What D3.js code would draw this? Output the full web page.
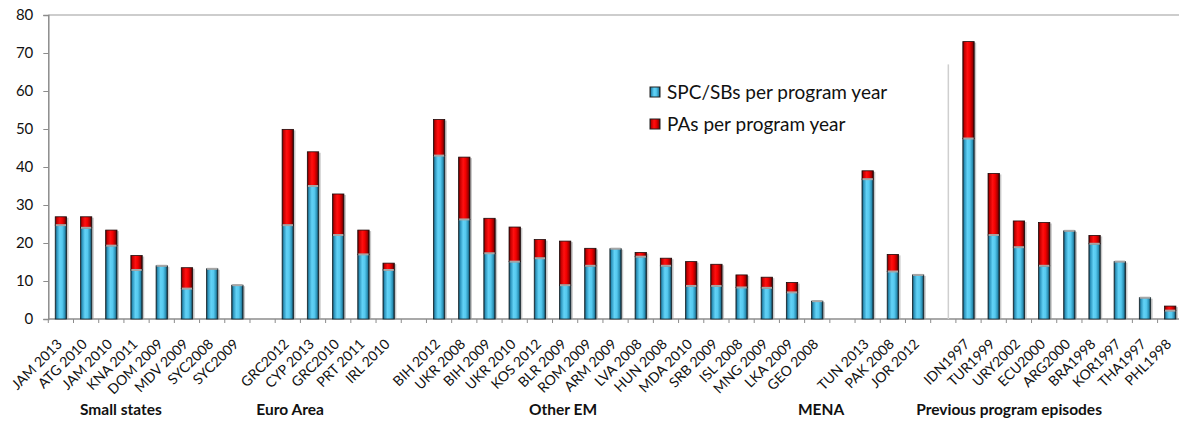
<!doctype html>
<html lang="en">

<head>
  <meta charset="utf-8">
  <style>
    body { margin: 0; background: #fff; }
    text { font-family: Lato, "Open Sans", sans-serif; fill: #111; }
  </style>
</head>

<body>
  <script src="https://d3js.org/d3.v7.min.js" charset="utf-8"></script>
  <div id="chart"></div>

  <script>
    // categories in chart order; "" marks an empty gap slot between groups
    var categories = [
      "JAM 2013", "ATG 2010", "JAM 2010", "KNA 2011", "DOM 2009", "MDV 2009", "SYC2008", "SYC2009", "",
      "GRC2012", "CYP 2013", "GRC2010", "PRT 2011", "IRL 2010", "",
      "BIH 2012", "UKR 2008", "BIH 2009", "UKR 2010", "KOS 2012", "BLR 2009", "ROM 2009", "ARM 2009",
      "LVA 2008", "HUN 2008", "MDA 2010", "SRB 2009", "ISL 2008", "MNG 2009", "LKA 2009", "GEO 2008", "",
      "TUN 2013", "PAK 2008", "JOR 2012", "",
      "IDN1997", "TUR1999", "URY2002", "ECU2000", "ARG2000", "BRA1998", "KOR1997", "THA1997", "PHL1998"
    ];
    // SPC/SBs per program year (blue)
    var spc = [
      24.7, 24.0, 19.3, 12.9, 14.0, 8.0, 13.2, 8.9, null,
      24.7, 35.0, 22.1, 17.0, 12.9, null,
      43.0, 26.2, 17.3, 15.1, 16.0, 8.9, 14.0, 18.5,
      16.4, 14.0, 8.7, 8.7, 8.3, 8.2, 7.0, 4.7, null,
      36.8, 12.5, 11.6, null,
      47.5, 22.1, 18.9, 14.0, 23.2, 19.8, 15.1, 5.6, 2.2
    ];
    // PAs per program year (red), stacked on top
    var pas = [
      2.2, 2.9, 4.1, 3.8, 0, 5.5, 0, 0, null,
      25.2, 9.0, 10.8, 6.4, 1.8, null,
      9.5, 16.4, 9.2, 9.1, 4.9, 11.6, 4.6, 0,
      1.1, 2.0, 6.4, 5.7, 3.3, 2.8, 2.6, 0, null,
      2.2, 4.5, 0, null,
      25.5, 16.2, 6.9, 11.4, 0, 2.2, 0, 0, 1.2
    ];
    var seriesNames = ["SPC/SBs per program year", "PAs per program year"];
    var yTicks = [0, 10, 20, 30, 40, 50, 60, 70, 80];
    // group captions and where they sit, in slot units along the x axis
    var groups = ["Small states", "Euro Area", "Other EM", "MENA", "Previous program episodes"];
    var groupSlot = [2.88, 9.59, 20.42, 30.65, 38.11];
    // thin divider before the previous program episodes (slot units, value height)
    var dividerSlot = 35.7, dividerTop = 67;

    var W = 1179, H = 422;
    var mLeft = 48.3, mRight = 1182.8, mTop = 15, mBottom = 319;

    var svg = d3.select("#chart").append("svg")
      .attr("width", W)
      .attr("height", H);

    var slotIds = categories.map(function (c, i) { return "s" + i; });

    var x = d3.scaleBand()
      .domain(slotIds)
      .range([mLeft, mRight])
      .paddingInner(0.55)
      .paddingOuter(0.275);
    var xs = d3.scaleLinear().domain([0, categories.length]).range([mLeft, mRight]);
    var y = d3.scaleLinear().domain([0, 80]).range([mBottom, mTop]);

    // gradients for the bevelled bars
    var defs = svg.append("defs");
    var blue = defs.append("linearGradient").attr("id", "gBlue");
    [["0%", "#12394a"], ["14%", "#2c93bb"], ["40%", "#62d2f6"], ["62%", "#55c9ef"], ["85%", "#2a8fb4"], ["100%", "#0c2330"]]
      .forEach(function (s) { blue.append("stop").attr("offset", s[0]).attr("stop-color", s[1]); });
    var red = defs.append("linearGradient").attr("id", "gRed");
    [["0%", "#4a0000"], ["14%", "#c40000"], ["40%", "#ff1010"], ["62%", "#f20000"], ["85%", "#a00000"], ["100%", "#2a0000"]]
      .forEach(function (s) { red.append("stop").attr("offset", s[0]).attr("stop-color", s[1]); });

    // top gridline
    svg.append("line")
      .attr("x1", mLeft).attr("x2", W)
      .attr("y1", y(80)).attr("y2", y(80))
      .style("stroke", "#bdbdbd").style("stroke-width", 1.5);

    // y axis
    var yAxis = svg.append("g")
      .attr("transform", "translate(" + mLeft + ",0)")
      .call(d3.axisLeft(y).tickValues(yTicks).tickSize(5).tickPadding(10));
    yAxis.select(".domain").style("stroke", "#8c8c8c").style("stroke-width", 1.5);
    yAxis.selectAll(".tick line").style("stroke", "#8c8c8c");
    yAxis.selectAll("text").style("font-size", "15px").style("font-family", "Lato, sans-serif").attr("fill", "#111");

    // x axis line and boundary ticks
    svg.append("line")
      .attr("x1", mLeft).attr("x2", mRight)
      .attr("y1", mBottom).attr("y2", mBottom)
      .style("stroke", "#8c8c8c").style("stroke-width", 1.5);
    svg.selectAll(".bt").data(d3.range(categories.length + 1))
      .enter().append("line")
      .attr("class", "bt")
      .attr("x1", function (i) { return xs(i); })
      .attr("x2", function (i) { return xs(i); })
      .attr("y1", mBottom).attr("y2", mBottom + 4)
      .style("stroke", "#8c8c8c");

    // divider line
    svg.append("line")
      .attr("x1", xs(dividerSlot)).attr("x2", xs(dividerSlot))
      .attr("y1", y(dividerTop)).attr("y2", mBottom)
      .style("stroke", "#cfcfcf").style("stroke-width", 1.5);

    var rows = categories.map(function (c, i) {
      return { id: slotIds[i], name: c, spc: spc[i], pas: pas[i] };
    }).filter(function (d) { return d.name !== ""; });

    var bw = x.bandwidth();

    // soft shadow to the right of each bar
    svg.selectAll(".shadow").data(rows)
      .enter().append("rect")
      .attr("class", "shadow")
      .attr("x", function (d) { return x(d.id) + 2; })
      .attr("y", function (d) { return y(d.spc + d.pas) + 1; })
      .attr("width", bw)
      .attr("height", function (d) { return mBottom - y(d.spc + d.pas) - 1; })
      .style("fill", "#9a9a9a").style("opacity", 0.55);

    // blue segments
    svg.selectAll(".spc").data(rows)
      .enter().append("rect")
      .attr("class", "spc")
      .attr("x", function (d) { return x(d.id); })
      .attr("y", function (d) { return y(d.spc); })
      .attr("width", bw)
      .attr("height", function (d) { return mBottom - y(d.spc); })
      .style("fill", "url(#gBlue)")
      .style("stroke", "#16262d").style("stroke-width", 0.8);

    // red segments
    svg.selectAll(".pas").data(rows.filter(function (d) { return d.pas > 0; }))
      .enter().append("rect")
      .attr("class", "pas")
      .attr("x", function (d) { return x(d.id); })
      .attr("y", function (d) { return y(d.spc + d.pas); })
      .attr("width", bw)
      .attr("height", function (d) { return y(d.spc) - y(d.spc + d.pas); })
      .style("fill", "url(#gRed)")
      .style("stroke", "#1e0a0a").style("stroke-width", 0.8);

    // grey bevel on top of each blue segment
    svg.selectAll(".cap").data(rows)
      .enter().append("rect")
      .attr("class", "cap")
      .attr("x", function (d) { return x(d.id) + 0.5; })
      .attr("y", function (d) { return y(d.spc) - 1; })
      .attr("width", bw - 1)
      .attr("height", 2)
      .style("fill", "#a6a6a6");

    // category labels
    svg.selectAll(".cat").data(rows)
      .enter().append("text")
      .attr("class", "cat")
      .attr("transform", function (d) {
        return "translate(" + (x(d.id) + bw / 2 + 2) + "," + (mBottom + 26) + ") rotate(-45)";
      })
      .attr("text-anchor", "end")
      .style("font-size", "14px")
      .text(function (d) { return d.name; });

    // group captions
    svg.selectAll(".grp").data(groups)
      .enter().append("text")
      .attr("class", "grp")
      .attr("x", function (d, i) { return xs(groupSlot[i]); })
      .attr("y", 415)
      .attr("text-anchor", "middle")
      .style("font-size", "15.5px")
      .style("font-weight", "bold")
      .text(function (d) { return d; });

    // legend
    var legend = svg.append("g").attr("transform", "translate(650,87)");
    var fills = ["url(#gBlue)", "url(#gRed)"];
    seriesNames.forEach(function (label, i) {
      legend.append("rect")
        .attr("x", 0).attr("y", i * 32)
        .attr("width", 10).attr("height", 10)
        .style("fill", fills[i])
        .style("stroke", "#222").style("stroke-width", 1);
      legend.append("text")
        .attr("x", 17).attr("y", i * 32 + 5)
        .attr("dy", "0.35em")
        .style("font-size", "19px")
        .text(label);
    });
  </script>
</body>

</html>
